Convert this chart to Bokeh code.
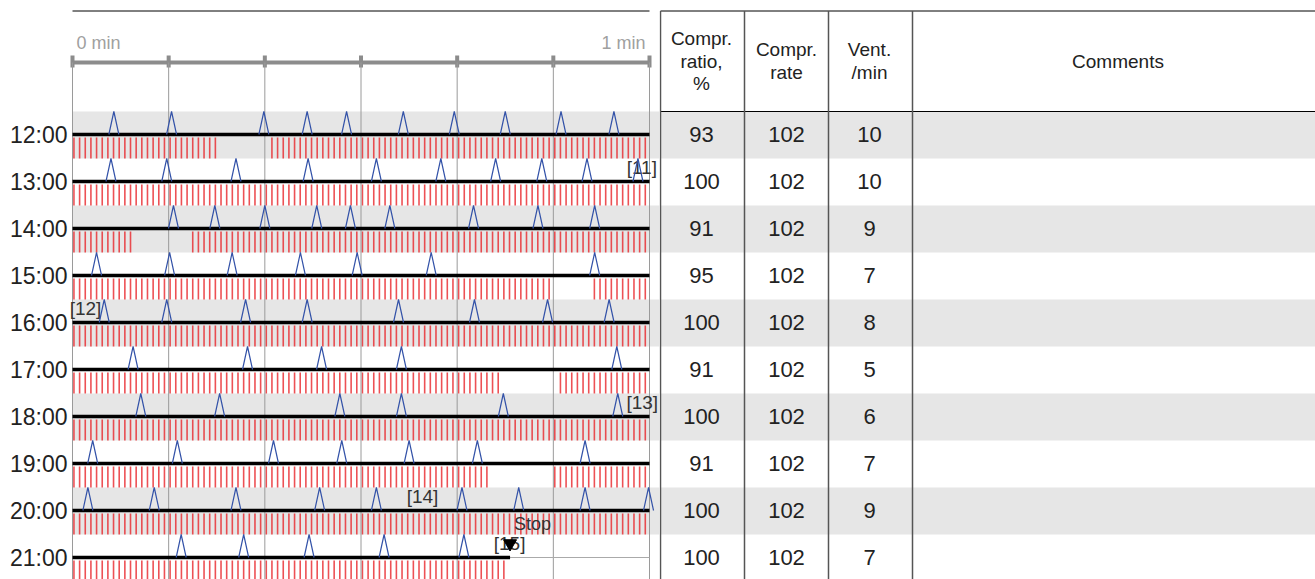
import numpy as np
from bokeh.plotting import figure
from bokeh.layouts import row
from bokeh.models import Range1d
from bokeh.embed import file_html
from bokeh.resources import INLINE
from bokeh.core.properties import value

# ---------------- data ----------------
hours = ["12:00", "13:00", "14:00", "15:00", "16:00",
         "17:00", "18:00", "19:00", "20:00", "21:00"]
compr_ratio = [93, 100, 91, 95, 100, 91, 100, 91, 100, 100]
compr_rate = [102, 102, 102, 102, 102, 102, 102, 102, 102, 102]
vent_per_min = [10, 10, 9, 7, 8, 5, 6, 7, 9, 7]

# ventilation times within each minute (seconds)
ventilations = [
    [4.3, 10.3, 19.9, 24.4, 28.5, 34.4, 39.7, 45.0, 50.8, 56.3],
    [4.0, 9.8, 17.0, 24.5, 31.6, 38.3, 44.0, 48.8, 53.5, 58.8],
    [10.5, 14.8, 20.0, 25.4, 28.9, 33.0, 41.7, 48.4, 54.3],
    [2.5, 10.1, 16.6, 23.7, 29.6, 37.3, 54.3],
    [3.3, 9.8, 18.0, 24.4, 33.9, 41.8, 49.4, 55.8],
    [6.3, 18.2, 25.9, 34.2, 56.6],
    [7.1, 15.3, 27.8, 34.2, 44.8, 56.7],
    [2.1, 10.9, 20.9, 28.0, 35.0, 42.1, 53.3],
    [1.6, 8.5, 17.0, 25.7, 31.6, 40.5, 46.4, 53.3, 59.9],
    [11.3, 17.8, 24.6, 32.4, 40.7],
]
# pauses in compressions (start s, end s) per row
pauses = [[(15.3, 20.2)], [], [(6.1, 12.4)], [(49.9, 53.9)], [],
          [(44.4, 50.6)], [], [(43.6, 49.9)], [], []]
stop_row = 9
stop_time = 45.5
event_labels = ["[11]", "[12]", "[13]", "[14]", "[15]"]
event_rows = [1, 4, 6, 8, 9]
event_times = [59.2, 1.35, 59.25, 36.4, 45.45]
minute_ticks = [0, 10, 20, 30, 40, 50, 60]
minute_labels = ["0 min", "1 min"]
header_lines = [["Compr.", "ratio,", "%"], ["Compr.", "rate"], ["Vent.", "/min"], ["Comments"]]

# ---------------- layout constants ----------------
W1, W2, H = 659, 656, 579
PXS = 577 / 60.0          # pixels per second
X0 = 72                   # frame px of t = 0
ROWPX = 47
ROW0 = 134
FONT = value("Liberation Sans")


def r(px):
    return px / ROWPX


n = len(hours)
x_start = -X0 / PXS
x_end = (W1 - X0) / PXS
yr = Range1d((H - ROW0) / ROWPX, -ROW0 / ROWPX)

p = figure(width=W1, height=H, x_range=Range1d(x_start, x_end), y_range=yr,
           output_backend="svg", toolbar_location=None, min_border=0,
           x_axis_type=None, y_axis_type=None)
p.grid.visible = False
p.outline_line_color = None
p.background_fill_color = "white"
p.border_fill_color = "white"

band_rows = [i for i in range(n) if i % 2 == 0]
p.quad(left=0, right=x_end, top=[i - r(23) for i in band_rows],
       bottom=[i + r(24) for i in band_rows], fill_color="#e6e6e6", line_color=None)

# top line
y_top = -r(123.5)
p.segment(x0=[0], y0=[y_top], x1=[60], y1=[y_top], line_color="black", line_width=1)

# minute scale
y_ax = -r(72)
p.segment(x0=[0], y0=[y_ax], x1=[60], y1=[y_ax], line_color="#8c8c8c", line_width=4)
p.segment(x0=minute_ticks, y0=[y_ax - r(7)] * len(minute_ticks),
          x1=minute_ticks, y1=[y_ax + r(5)] * len(minute_ticks),
          line_color="#8c8c8c", line_width=4)
p.text(x=[0 + 4 / PXS], y=[-r(92)], text=[minute_labels[0]], text_align="left",
       text_baseline="middle", text_font=FONT, text_font_size="18px", text_color="#a0a0a0")
p.text(x=[60 - 4 / PXS], y=[-r(92)], text=[minute_labels[1]], text_align="right",
       text_baseline="middle", text_font=FONT, text_font_size="18px", text_color="#a0a0a0")

# compressions
cx0, cy0, cy1 = [], [], []
for i in range(n):
    period = 60.0 / compr_rate[i]
    ts = 0.15 + period * np.arange(compr_rate[i] + 1)
    ts = ts[ts < 60.0]
    keep = np.ones(len(ts), dtype=bool)
    for a, b in pauses[i]:
        keep &= ~((ts > a) & (ts < b))
    if i == stop_row:
        keep &= ts < stop_time - 0.3
    for t in ts[keep]:
        cx0.append(t)
        cy0.append(i + r(3))
        cy1.append(i + r(24))
p.segment(x0=cx0, y0=cy0, x1=cx0, y1=cy1, line_color="#e8262a", line_width=1.6, line_alpha=0.8)

# grid
p.segment(x0=minute_ticks, y0=[y_ax] * len(minute_ticks), x1=minute_ticks,
          y1=[yr.start] * len(minute_ticks), line_color="#9a9a9a", line_width=1)

# baselines
p.segment(x0=[0] * n, y0=list(range(n)), x1=[60] * n, y1=list(range(n)),
          line_color="#aaaaaa", line_width=1)
bx1 = [stop_time if i == stop_row else 60 for i in range(n)]
p.segment(x0=[0] * n, y0=list(range(n)), x1=bx1, y1=list(range(n)),
          line_color="black", line_width=3.5)

# hour labels
p.text(x=[-5 / PXS] * n, y=list(range(n)), text=hours, text_align="right",
       text_baseline="middle", text_font=FONT, text_font_size="23px", text_color="#222222")

# event labels
p.text(x=event_times, y=[ri - r(14) for ri in event_rows], text=event_labels,
       text_align="center", text_baseline="middle", text_font=FONT,
       text_font_size="19px", text_color="#333333")

# ventilations
hw = 5 / PXS
xs, ys = [], []
for i in range(n):
    for t in ventilations[i]:
        xs.append([t - hw, t, t + hw])
        ys.append([i, i - r(23), i])
p.multi_line(xs=xs, ys=ys, line_color="#3352a8", line_width=1.2)

# stop marker
p.scatter(x=[stop_time], y=[stop_row - r(14)], marker="inverted_triangle", size=13,
          fill_color="black", line_color="black")
p.text(x=[stop_time + 0.4], y=[stop_row - r(34)], text=["Stop"], text_align="left",
       text_baseline="middle", text_font=FONT, text_font_size="18px", text_color="#333333")

# ---------------- table ----------------
t = figure(width=W2, height=H, x_range=Range1d(0, W2), y_range=yr,
           output_backend="svg", toolbar_location=None, min_border=0,
           x_axis_type=None, y_axis_type=None)
t.grid.visible = False
t.outline_line_color = None
t.background_fill_color = "white"
t.border_fill_color = "white"

col_edges = [1, 85, 169, 253]
col_centers = [42, 127, 210, 458.5]

t.quad(left=0, right=W2, top=[i - r(23) for i in band_rows],
       bottom=[i + r(24) for i in band_rows], fill_color="#e6e6e6", line_color=None)
t.segment(x0=[1, 1], y0=[y_top, -r(23)], x1=[W2, W2], y1=[y_top, -r(23)],
          line_color="black", line_width=1)
t.segment(x0=col_edges, y0=[y_top] * 4, x1=col_edges, y1=[yr.start] * 4,
          line_color="#555555", line_width=1.5)

hx, hy, ht = [], [], []
y_mid = -r(73.5)
for c, lines in enumerate(header_lines):
    k = len(lines)
    for j, s in enumerate(lines):
        hx.append(col_centers[c])
        hy.append(y_mid + r(22.5) * (j - (k - 1) / 2))
        ht.append(s)
t.text(x=hx, y=hy, text=ht, text_align="center", text_baseline="middle",
       text_font=FONT, text_font_size="19px", text_color="#222222")

for c, vals in enumerate([compr_ratio, compr_rate, vent_per_min]):
    t.text(x=[col_centers[c]] * n, y=list(range(n)), text=[str(v) for v in vals],
           text_align="center", text_baseline="middle", text_font=FONT,
           text_font_size="22px", text_color="#222222")

layout = row(p, t)
open("out.html", "w").write(file_html(layout, INLINE))
